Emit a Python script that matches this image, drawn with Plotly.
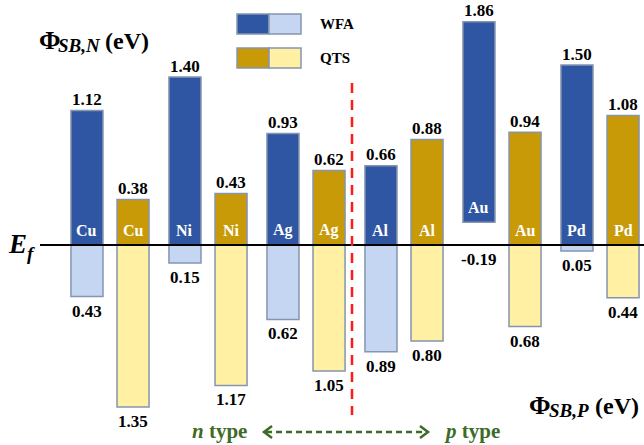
import plotly.graph_objects as go

# Schottky barrier heights of metal / Si contacts (eV)
metals = ["Cu", "Ni", "Ag", "Al", "Au", "Pd"]
wfa_n = [1.12, 1.40, 0.93, 0.66, 1.86, 1.50]   # WFA, Phi_SB,N
wfa_p = [0.43, 0.15, 0.62, 0.89, -0.19, 0.05]  # WFA, Phi_SB,P
qts_n = [0.38, 0.43, 0.62, 0.88, 0.94, 1.08]   # QTS, Phi_SB,N
qts_p = [1.35, 1.17, 1.05, 0.80, 0.68, 0.44]   # QTS, Phi_SB,P

W, H = 644, 445
FONT = "Liberation Serif"
DARK_BLUE, LIGHT_BLUE = "#2F56A3", "#C4D6F1"
GOLD, LIGHT_GOLD = "#C99A08", "#FFF0A3"
EDGE = "#8595AE"
GREEN = "#3E6B27"

OFF = 0.235      # half distance between the two bars of a metal pair
BW = 0.327       # bar width in x units
EF_PX, SCALE = 245, 120.0   # Fermi level row and pixels per eV

idx = list(range(len(metals)))
x_w = [i - OFF for i in idx]
x_q = [i + OFF for i in idx]


def upper(n_vals, p_vals):
    # a negative p-barrier lifts the n-bar off the Fermi level
    base = [max(0.0, -p) for p in p_vals]
    return base, [n - b for n, b in zip(n_vals, base)]


def lower(p_vals):
    return [-max(0.0, p) for p in p_vals]


wb, wh = upper(wfa_n, wfa_p)
qb, qh = upper(qts_n, qts_p)

fig = go.Figure()


def add_bar(x, y, base, color):
    fig.add_trace(go.Bar(
        x=x, y=y, base=base, width=BW,
        marker=dict(color=color, line=dict(color=EDGE, width=1.5)),
        showlegend=False, hoverinfo="skip"))


add_bar(x_w, wh, wb, DARK_BLUE)
add_bar(x_w, lower(wfa_p), [0] * len(idx), LIGHT_BLUE)
add_bar(x_q, qh, qb, GOLD)
add_bar(x_q, lower(qts_p), [0] * len(idx), LIGHT_GOLD)

ann = []


def txt(x, y, s, size=17, color="black", xshift=0, yshift=0, xref="x", yref="y", xanchor="center"):
    ann.append(dict(x=x, y=y, xref=xref, yref=yref, text=s, showarrow=False,
                    xanchor=xanchor, yanchor="middle", xshift=xshift, yshift=yshift,
                    font=dict(family=FONT, size=size, color=color)))


for i, m in enumerate(metals):
    # values above / below the bars
    txt(x_w[i], wfa_n[i], f"<b>{wfa_n[i]:.2f}</b>", yshift=11)
    txt(x_q[i], qts_n[i], f"<b>{qts_n[i]:.2f}</b>", yshift=11)
    txt(x_w[i], -max(0.0, wfa_p[i]), f"<b>{wfa_p[i]:.2f}</b>", yshift=-14.5)
    txt(x_q[i], -max(0.0, qts_p[i]), f"<b>{qts_p[i]:.2f}</b>", yshift=-14.5)
    # metal names inside the upper bars
    txt(x_w[i], wb[i], f"<b>{m}</b>", size=16, color="white", yshift=15)
    txt(x_q[i], qb[i], f"<b>{m}</b>", size=16, color="white", yshift=15)


def px(xp):
    return xp / W


def py(yp):
    return 1 - yp / H


# axis titles
txt(px(37), py(40), "<b>Φ</b>", size=26, xref="paper", yref="paper", xanchor="left")
txt(px(56), py(45), "<b><i>SB,N</i></b>", size=19, xref="paper", yref="paper", xanchor="left")
txt(px(103), py(41), "<b>(eV)</b>", size=24, xref="paper", yref="paper", xanchor="left")
txt(px(527), py(405), "<b>Φ</b>", size=26, xref="paper", yref="paper", xanchor="left")
txt(px(547), py(410), "<b><i>SB,P</i></b>", size=19, xref="paper", yref="paper", xanchor="left")
txt(px(593), py(406), "<b>(eV)</b>", size=24, xref="paper", yref="paper", xanchor="left")

# Fermi level label
txt(px(6), py(244), "<b><i>E</i></b>", size=27, xref="paper", yref="paper", xanchor="left")
txt(px(25), py(253), "<b><i>f</i></b>", size=19, xref="paper", yref="paper", xanchor="left")

# legend
txt(px(318), py(24), "<b>WFA</b>", size=15, xref="paper", yref="paper", xanchor="left")
txt(px(318), py(58), "<b>QTS</b>", size=15, xref="paper", yref="paper", xanchor="left")

# conduction type arrow labels
txt(px(190), py(431), "<b><i>n</i> type</b>", size=21, color=GREEN, xref="paper", yref="paper", xanchor="left")
txt(px(442), py(431), "<b><i>p</i> type</b>", size=21, color=GREEN, xref="paper", yref="paper", xanchor="left")

shapes = []
# Fermi level
shapes.append(dict(type="line", xref="paper", yref="y", x0=px(40), x1=1, y0=0, y1=0,
                   line=dict(color="black", width=2), layer="above"))
# n / p boundary
shapes.append(dict(type="line", xref="paper", yref="paper", x0=px(352), x1=px(352),
                   y0=py(83), y1=py(415), line=dict(color="#FF1A1A", width=2.5, dash="10px,7px")))
# legend swatches
for (y0, c1, c2) in [(14, DARK_BLUE, LIGHT_BLUE), (48, GOLD, LIGHT_GOLD)]:
    shapes.append(dict(type="rect", xref="paper", yref="paper", x0=px(237), x1=px(269),
                       y0=py(y0), y1=py(y0 + 20), fillcolor=c1, line=dict(color=EDGE, width=1.5)))
    shapes.append(dict(type="rect", xref="paper", yref="paper", x0=px(269), x1=px(301),
                       y0=py(y0), y1=py(y0 + 20), fillcolor=c2, line=dict(color=EDGE, width=1.5)))
# dashed double arrow
shapes.append(dict(type="line", xref="paper", yref="paper", x0=px(266), x1=px(426),
                   y0=py(432), y1=py(432), line=dict(color=GREEN, width=2.5, dash="6px,4px")))
shapes.append(dict(type="path", xref="paper", yref="paper",
                   path=f"M {px(272)},{py(426)} L {px(264)},{py(432)} L {px(272)},{py(438)}",
                   line=dict(color=GREEN, width=2.5)))
shapes.append(dict(type="path", xref="paper", yref="paper",
                   path=f"M {px(420)},{py(426)} L {px(428)},{py(432)} L {px(420)},{py(438)}",
                   line=dict(color=GREEN, width=2.5)))

fig.update_layout(
    width=W, height=H, margin=dict(l=0, r=0, t=0, b=0),
    paper_bgcolor="white", plot_bgcolor="white",
    barmode="overlay", annotations=ann, shapes=shapes,
    xaxis=dict(range=[-110 / 98, (W - 110) / 98], visible=False, fixedrange=True),
    yaxis=dict(range=[-(H - EF_PX) / SCALE, EF_PX / SCALE], visible=False, fixedrange=True),
    font=dict(family=FONT),
)

fig.write_html("out.html")
